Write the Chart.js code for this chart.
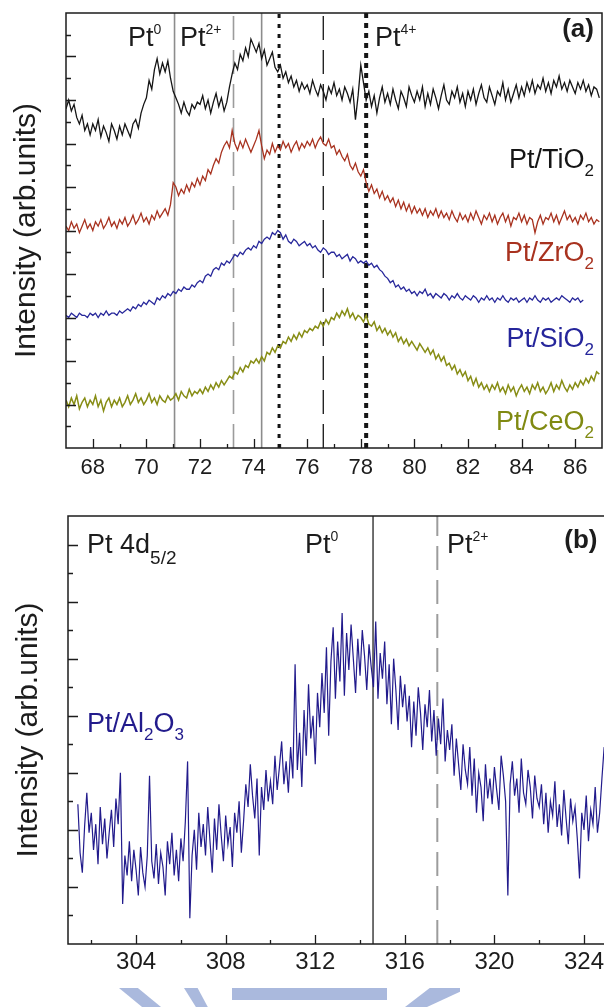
<!DOCTYPE html>
<html>
<head>
<meta charset="utf-8">
<script src="https://cdn.jsdelivr.net/npm/chart.js@4.4.1/dist/chart.umd.min.js"></script>
<style>
  html, body { margin: 0; padding: 0; background: #fff; overflow: hidden; width: 604px; height: 1007px; position: relative; }
  canvas { position: absolute; left: 0; }
  #chart-a { top: 0; }
  #chart-b { top: 490px; }
  .wm { position: absolute; background: #aab9dd; }
</style>
</head>
<body>
<canvas id="chart-a" width="604" height="490"></canvas>
<canvas id="chart-b" width="612" height="517"></canvas>
<!-- watermark remnants at the bottom edge -->
<div class="wm" style="left:119px;top:988px;width:42px;height:19px;clip-path:polygon(0 0,45% 0,100% 100%,55% 100%)"></div>
<div class="wm" style="left:184px;top:988px;width:34px;height:19px;clip-path:polygon(0 0,40% 0,70% 100%,35% 100%)"></div>
<div class="wm" style="left:232px;top:988px;width:155px;height:12px"></div>
<div class="wm" style="left:405px;top:988px;width:55px;height:19px;clip-path:polygon(45% 0,100% 0,100% 20%,40% 100%,0 100%)"></div>
<script>
// Panel (a): Pt 4f region, x = binding energy (eV), 0.1 eV grid from 67.0
var TIO2 = [
  15.6,16.0,15.5,15.8,15.2,14.9,15.3,14.6,14.9,14.4,
  14.9,14.6,15.1,14.3,14.8,14.5,14.1,14.9,14.6,14.2,
  14.8,14.4,14.9,14.6,14.3,14.9,15.1,14.7,15.4,15.8,
  16.1,16.9,16.5,17.4,17.9,17.2,17.7,17.3,17.8,17.0,
  16.4,16.1,15.8,15.4,15.9,15.5,15.3,15.8,15.6,15.9,
  15.8,16.2,15.6,16.0,15.4,15.9,16.3,15.7,16.1,15.5,
  15.9,16.6,17.2,17.7,17.4,18.1,17.8,18.4,18.0,18.8,
  18.5,18.2,18.6,17.9,18.3,17.6,17.9,18.2,17.5,17.3,
  17.6,17.0,17.3,16.8,17.1,16.6,16.9,16.4,16.8,16.5,
  16.7,16.3,16.9,16.5,16.2,16.7,16.4,16.0,16.6,16.3,
  16.8,16.2,16.5,16.0,16.6,16.3,15.9,16.5,15.1,16.2,
  17.6,16.8,16.0,16.4,15.7,16.2,15.4,16.1,16.6,15.9,
  16.3,15.8,16.5,16.0,15.6,16.4,16.1,15.7,16.6,16.2,
  15.9,16.4,16.0,16.6,15.7,16.3,15.8,16.5,16.1,15.6,
  16.2,16.7,16.0,15.8,16.4,16.1,16.6,15.9,16.3,15.7,
  16.4,16.0,16.5,15.8,16.3,16.7,16.1,15.9,16.6,16.2,
  15.8,16.4,16.2,16.8,16.0,16.5,15.9,16.3,16.7,16.1,
  16.6,16.2,16.8,16.4,16.9,16.3,16.7,16.5,17.0,16.4,
  16.8,16.3,16.9,16.6,17.1,16.5,16.8,16.4,16.9,16.6,
  16.3,16.8,16.5,16.9,16.4,16.7,16.2,16.6,16.5,16.1
];
var ZRO2 = [
  10.2,10.0,10.4,10.1,10.3,9.9,10.2,10.5,10.1,10.3,
  10.0,10.4,10.2,10.5,10.1,10.3,10.6,10.2,10.4,10.1,
  10.5,10.3,10.6,10.2,10.4,10.7,10.3,10.5,10.8,10.4,
  10.6,10.3,10.7,10.5,10.9,10.6,10.8,11.0,10.7,11.2,
  12.2,12.0,11.6,11.9,11.7,12.1,11.8,12.2,12.0,12.4,
  12.1,12.5,12.3,12.8,12.6,13.0,13.3,13.1,13.6,13.9,
  14.1,13.8,14.6,14.0,13.7,14.1,13.8,14.2,13.9,13.6,
  13.9,14.2,14.6,13.9,13.3,13.7,13.5,14.0,13.6,13.9,
  13.7,14.1,13.8,14.0,13.6,13.9,14.1,13.7,14.0,13.8,
  14.1,13.9,14.2,13.8,14.1,14.3,14.0,13.9,14.2,13.8,
  13.9,13.5,13.7,13.4,13.2,13.5,13.0,12.8,13.1,12.7,
  12.5,12.8,12.2,11.8,12.1,11.7,11.9,11.5,11.8,11.4,
  11.6,11.3,11.5,11.1,11.4,11.0,11.3,10.9,11.2,10.8,
  11.1,10.8,11.0,10.7,11.0,10.6,10.9,10.7,11.0,10.6,
  10.9,10.6,10.8,10.5,10.9,10.6,10.4,10.8,10.5,10.7,
  10.4,10.8,10.5,10.9,10.6,10.3,10.7,10.5,10.8,10.4,
  10.7,10.3,10.6,10.8,10.4,10.7,10.2,10.6,10.5,10.8,
  10.4,10.7,10.3,10.6,10.5,9.9,10.4,10.7,10.3,10.6,
  10.5,10.8,10.4,10.7,10.3,10.6,10.9,10.5,10.7,10.4,
  10.6,10.3,10.7,10.5,10.8,10.4,10.6,10.3,10.5,10.4
];
var SIO2 = [
  6.1,6.0,6.2,6.1,6.0,6.2,6.1,6.1,6.0,6.2,
  6.1,6.2,6.0,6.2,6.1,6.3,6.1,6.2,6.2,6.1,
  6.3,6.2,6.3,6.4,6.3,6.5,6.4,6.6,6.5,6.7,
  6.6,6.8,6.7,6.6,6.9,6.8,7.0,6.9,7.1,7.0,
  7.2,7.1,7.3,7.2,7.4,7.3,7.3,7.5,7.4,7.6,
  7.7,7.6,7.9,8.0,7.9,8.2,8.3,8.2,8.5,8.4,
  8.6,8.5,8.7,8.9,8.8,9.0,8.9,9.1,9.2,9.1,
  9.3,9.2,9.5,9.4,9.6,9.7,9.6,9.9,9.8,10.0,
  9.9,9.6,9.8,9.5,9.4,9.6,9.5,9.3,9.4,9.5,
  9.3,9.4,9.2,9.3,9.1,9.0,9.2,9.1,8.9,9.0,
  9.0,8.8,8.9,8.7,8.8,8.9,8.6,8.8,8.7,8.5,
  8.6,8.5,8.6,8.4,8.5,8.3,8.4,8.2,8.1,7.9,
  7.8,7.6,7.7,7.4,7.5,7.3,7.4,7.2,7.3,7.1,
  7.2,7.0,7.2,7.1,7.3,7.0,7.1,6.9,7.1,7.0,
  6.9,7.1,7.0,6.8,7.0,6.9,7.1,6.9,6.8,7.0,
  6.9,6.8,7.0,6.9,6.7,6.9,6.8,7.0,6.8,6.9,
  6.7,6.9,6.8,7.0,6.8,6.7,6.9,6.8,6.9,6.7,
  6.8,6.9,6.7,6.9,6.8,7.0,6.8,6.7,6.9,6.8,
  6.9,6.7,6.8,6.9,6.8,7.0,6.9,6.8,6.7,6.9,
  6.8,6.9,6.7,6.8,null,null,null,null,null,null
];
var CEO2 = [
  2.2,1.9,2.3,2.0,2.4,1.8,2.1,2.3,1.9,2.2,
  2.0,2.4,1.9,2.2,1.7,2.1,2.3,1.9,2.2,2.0,
  2.3,1.9,2.1,2.4,2.0,2.2,2.5,2.1,2.3,2.0,
  2.2,2.5,2.1,2.3,2.0,2.4,2.2,2.1,2.4,2.2,
  2.3,2.5,2.2,2.6,2.4,2.3,2.7,2.4,2.6,2.5,
  2.7,2.5,2.8,2.6,2.9,2.7,3.0,2.8,3.1,2.9,
  3.1,3.3,3.2,3.5,3.4,3.7,3.5,3.8,3.7,4.0,
  3.9,4.1,3.9,4.2,4.0,4.4,4.3,4.6,4.4,4.7,
  4.6,4.9,4.8,5.1,4.9,5.2,5.0,5.3,5.1,5.4,
  5.3,5.5,5.4,5.6,5.5,5.8,5.6,5.9,5.7,6.0,
  5.9,6.2,6.0,6.3,6.1,6.4,6.0,6.2,5.9,6.1,
  6.0,5.8,6.1,5.7,5.6,5.8,5.4,5.6,5.3,5.5,
  5.2,5.4,5.1,5.3,4.9,5.1,4.8,5.0,4.7,4.9,
  4.7,4.5,4.8,4.6,4.4,4.6,4.3,4.5,4.1,4.3,
  4.0,4.2,3.8,3.9,3.6,3.8,3.4,3.6,3.3,3.5,
  3.1,3.3,2.9,3.2,2.8,3.0,2.7,2.9,2.6,2.9,
  2.7,3.0,2.6,2.8,2.5,2.9,2.6,2.8,2.4,2.7,
  2.9,2.6,2.8,2.5,2.9,2.7,3.0,2.6,2.8,2.5,
  2.7,3.0,2.6,2.9,2.7,3.1,2.8,2.6,2.9,2.7,
  3.0,2.8,3.1,2.9,3.2,3.0,3.3,3.1,3.5,3.4
];
var E_A = TIO2.map(function (_, i) { return +(67 + i * 0.1).toFixed(1); });
var XTICKS_A = [68, 69, 70, 71, 72, 73, 74, 75, 76, 77, 78, 79, 80, 81, 82, 83, 84, 85, 86];
var REF_A = [71.05, 73.25, 74.3, 74.95, 76.6, 78.2];

// Panel (b): Pt 4d5/2 on Al2O3, 0.1 eV grid from 301.4
var AL2O3 = [
  4.9,3.2,2.5,4.1,5.3,3.9,
  4.6,3.3,4.2,2.8,4.8,3.5,4.4,3.0,3.9,4.7,
  3.4,5.1,4.2,6.0,1.4,3.1,2.4,3.6,2.2,3.3,
  2.6,1.7,3.4,2.5,2.0,3.1,5.9,2.9,2.3,3.5,
  2.1,3.2,2.7,1.7,3.6,2.8,3.9,2.4,3.3,2.2,
  3.7,2.9,4.3,6.4,0.9,3.1,4.0,2.6,4.6,3.4,
  4.2,3.1,4.8,3.6,2.5,4.4,3.3,4.9,3.8,2.9,
  4.5,3.5,4.1,2.7,4.6,3.9,5.0,3.2,4.3,5.6,
  4.8,6.3,5.2,4.4,5.8,3.1,5.5,4.7,6.1,5.0,
  5.7,4.9,6.6,5.4,6.2,7.1,5.6,6.4,5.3,6.9,
  5.8,9.8,6.1,7.4,5.5,8.2,6.6,9.1,7.2,8.0,
  6.3,8.8,7.6,9.5,8.1,10.4,7.3,9.9,11.1,8.6,
  10.6,9.2,11.6,8.7,10.9,9.6,11.2,10.0,8.8,10.7,
  9.4,11.0,10.1,8.9,10.5,9.7,9.0,11.3,8.6,10.2,
  9.3,10.6,8.4,9.8,7.7,10.0,8.9,7.5,9.4,8.3,
  9.1,7.8,8.7,6.9,8.5,7.3,9.0,8.1,6.8,8.4,
  7.6,8.9,7.1,8.2,6.6,7.9,7.0,8.6,6.4,7.5,
  6.8,7.7,5.9,7.2,6.3,5.4,7.0,6.1,5.6,6.9,
  5.2,6.5,4.6,6.0,5.5,4.3,6.3,5.1,5.8,4.9,
  6.2,5.4,4.7,6.6,5.9,5.0,1.7,5.6,6.4,5.2,
  5.8,4.6,6.5,5.3,4.9,6.1,5.5,4.4,5.9,5.1,
  4.8,5.6,4.2,5.3,3.9,5.0,4.5,5.7,4.1,4.9,
  3.8,5.4,4.4,3.5,5.1,4.3,4.8,3.7,2.3,4.6,
  4.0,5.2,3.6,4.7,4.2,5.5,3.9,4.6,5.8,6.9
];
var E_B = AL2O3.map(function (_, i) { return +(301.4 + i * 0.1).toFixed(1); });
var XTICKS_B = [302, 304, 306, 308, 310, 312, 314, 316, 318, 320, 322, 324];
var REF_B = [314.58, 317.45];

var INK = "#1c1c1c";
var FONT = "'Liberation Sans', Arial, Helvetica, sans-serif";

function xy(xs, ys) { return xs.map(function (x, i) { return { x: x, y: ys[i] }; }); }

function curve(xs, ys, color, width) {
  return { data: xy(xs, ys), borderColor: color, borderWidth: width, pointRadius: 0, tension: 0, spanGaps: false };
}

function vline(x, yMax, s) {
  return { data: [{ x: x, y: 0 }, { x: x, y: yMax }], borderColor: s.c, borderWidth: s.w,
    borderDash: s.d || [], borderCapStyle: "butt", pointRadius: 0 };
}

var REF_A_STYLE = [
  { c: "#8c8c8c", w: 1.6 },
  { c: "#9c9c9c", w: 1.6, d: [24, 10] },
  { c: "#8c8c8c", w: 1.6 },
  { c: "#151515", w: 3, d: [4, 6] },
  { c: "#151515", w: 1.3, d: [24, 10] },
  { c: "#151515", w: 4, d: [5, 5] }
];
var REF_B_STYLE = [
  { c: "#222222", w: 1.3 },
  { c: "#9c9c9c", w: 2, d: [24, 10] }
];

// label text, placed in data coordinates; parts = [text, px size, baseline shift]
var NOTES_A = [
  { x: 69.31, y: 18.48, parts: [["Pt", 27], ["0", 14, -12]] },
  { x: 71.25, y: 18.48, parts: [["Pt", 27], ["2+", 14, -12]] },
  { x: 78.53, y: 18.48, parts: [["Pt", 27], ["4+", 14, -12]] },
  { x: 86.7, y: 18.9, parts: [["(a)", 26]], align: "right", bold: true },
  { x: 86.7, y: 12.87, parts: [["Pt/TiO", 27], ["2", 17, 8]], align: "right", color: "#151515" },
  { x: 86.7, y: 8.6, parts: [["Pt/ZrO", 27], ["2", 17, 8]], align: "right", color: "#a8321f" },
  { x: 86.7, y: 4.64, parts: [["Pt/SiO", 27], ["2", 17, 8]], align: "right", color: "#25259b" },
  { x: 86.7, y: 0.83, parts: [["Pt/CeO", 27], ["2", 17, 8]], align: "right", color: "#808a12" }
];
var NOTES_B = [
  { x: 301.81, y: 13.7, parts: [["Pt 4d", 27], ["5/2", 19, 11]] },
  { x: 311.54, y: 13.7, parts: [["Pt", 27], ["0", 14, -12]] },
  { x: 317.88, y: 13.7, parts: [["Pt", 27], ["2+", 14, -12]] },
  { x: 324.6, y: 13.88, parts: [["(b)", 26]], align: "right", bold: true },
  { x: 301.81, y: 7.43, parts: [["Pt/Al", 27], ["2", 17, 8], ["O", 27], ["3", 17, 8]], color: "#221b8c" }
];

function isMul(v, step) { var r = v / step; return Math.abs(r - Math.round(r)) < 1e-6; }

var framePlugin = {
  id: "frame",
  afterDatasetsDraw: function (chart, args, o) {
    var ctx = chart.ctx, a = chart.chartArea, sx = chart.scales.x, sy = chart.scales.y;
    ctx.save();
    ctx.strokeStyle = INK;
    ctx.lineWidth = 1.3;
    ctx.beginPath();
    sx.ticks.forEach(function (t) {
      var px = Math.round(sx.getPixelForValue(t.value)) + 0.5;
      if (px < a.left + 2 || px > a.right - 2) return;
      var len = isMul(t.value, o.xMajor) ? 9 : 4;
      ctx.moveTo(px, a.bottom); ctx.lineTo(px, a.bottom - len);
    });
    sy.ticks.forEach(function (t) {
      if (!isMul(t.value, 1)) return;
      var py = Math.round(sy.getPixelForValue(t.value)) + 0.5;
      if (py < a.top + 2 || py > a.bottom - 2) return;
      var len = isMul(t.value, 2) ? 10 : 5;
      ctx.moveTo(a.left, py); ctx.lineTo(a.left + len, py);
    });
    ctx.stroke();
    ctx.lineWidth = 1.5;
    ctx.strokeRect(a.left, a.top, a.right - a.left, a.bottom - a.top);
    ctx.restore();
  }
};

var notesPlugin = {
  id: "notes",
  afterDraw: function (chart, args, o) {
    var ctx = chart.ctx, sx = chart.scales.x, sy = chart.scales.y;
    ctx.save();
    ctx.textBaseline = "alphabetic";
    ctx.textAlign = "left";
    (o.items || []).forEach(function (n) {
      var fontOf = function (p) { return (n.bold ? "bold " : "") + p[1] + "px " + FONT; };
      var w = 0;
      n.parts.forEach(function (p) { ctx.font = fontOf(p); w += ctx.measureText(p[0]).width; });
      var x = sx.getPixelForValue(n.x), y = sy.getPixelForValue(n.y);
      if (n.align === "right") x -= w;
      ctx.fillStyle = n.color || INK;
      n.parts.forEach(function (p) {
        ctx.font = fontOf(p);
        ctx.fillText(p[0], x, y + (p[2] || 0));
        x += ctx.measureText(p[0]).width;
      });
    });
    ctx.restore();
  }
};

function options(c) {
  return {
    responsive: false,
    animation: false,
    events: [],
    layout: { padding: c.pad },
    plugins: {
      legend: { display: false },
      tooltip: { enabled: false },
      frame: { xMajor: c.xMajor },
      notes: { items: c.notes }
    },
    scales: {
      x: {
        type: "linear", min: c.xMin, max: c.xMax,
        grid: { display: false, drawTicks: false }, border: { display: false },
        afterBuildTicks: function (s) { s.ticks = c.xTicks.map(function (v) { return { value: v }; }); },
        ticks: {
          autoSkip: false, maxRotation: 0, padding: c.xPad, color: INK,
          font: { family: FONT, size: c.xFont, lineHeight: 1.2 },
          callback: function (v) { return isMul(v, c.xMajor) ? String(Math.round(v)) : ""; }
        },
        afterFit: function (s) { s.height = c.xH; }
      },
      y: {
        type: "linear", min: 0, max: c.yMax,
        grid: { display: false, drawTicks: false }, border: { display: false },
        ticks: { display: false, stepSize: 1 },
        title: { display: true, text: "Intensity (arb.units)", color: INK,
          font: { family: FONT, size: 30, lineHeight: 1 }, padding: { top: c.titlePad, bottom: 0 } },
        afterFit: function (s) { s.width = c.yW; }
      }
    }
  };
}

var dsA = [
  curve(E_A, TIO2, "#151515", 1.3),
  curve(E_A, ZRO2, "#a8321f", 1.3),
  curve(E_A, SIO2, "#28289b", 1.3),
  curve(E_A, CEO2, "#878d15", 1.5)
].concat(REF_A.map(function (x, i) { return vline(x, 20, REF_A_STYLE[i]); }));

new Chart(document.getElementById("chart-a"), {
  type: "line",
  data: { datasets: dsA },
  options: options({ pad: { top: 13, right: 2, left: 0, bottom: 0 }, xMin: 67, xMax: 87, xTicks: XTICKS_A, xMajor: 2,
    xPad: 7, xFont: 22, xH: 42, yMax: 20, yW: 66, titlePad: 12, notes: NOTES_A }),
  plugins: [framePlugin, notesPlugin]
});

var dsB = [curve(E_B, AL2O3, "#221b8c", 1.2)]
  .concat(REF_B.map(function (x, i) { return vline(x, 15, REF_B_STYLE[i]); }));

new Chart(document.getElementById("chart-b"), {
  type: "line",
  data: { datasets: dsB },
  options: options({ pad: { top: 26, right: 0, left: 0, bottom: 0 }, xMin: 300.96, xMax: 325.25, xTicks: XTICKS_B, xMajor: 4,
    xPad: 4, xFont: 24, xH: 63, yMax: 15, yW: 68, titlePad: 14, notes: NOTES_B }),
  plugins: [framePlugin, notesPlugin]
});
</script>
</body>
</html>
